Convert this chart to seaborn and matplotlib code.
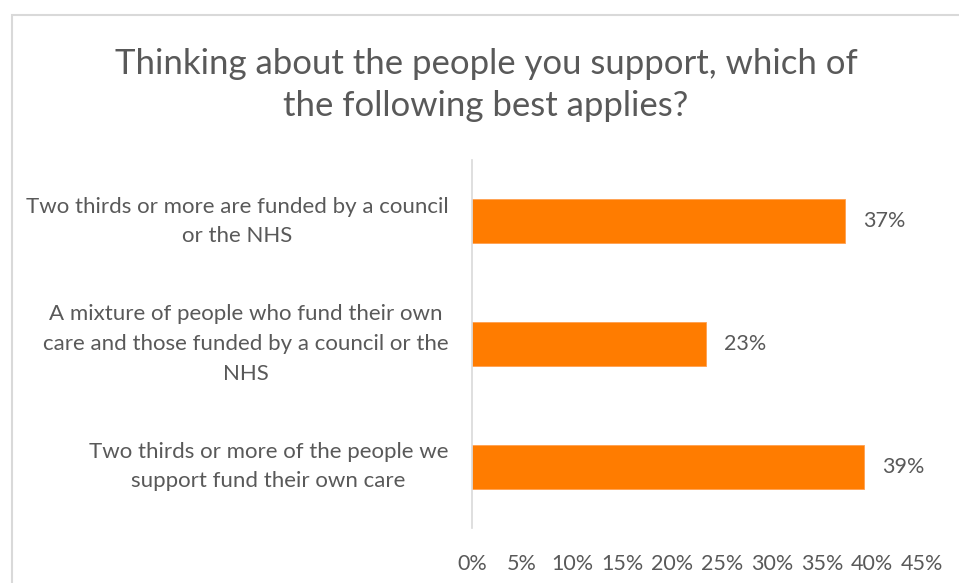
import matplotlib
matplotlib.use("Agg")
import matplotlib.pyplot as plt
import matplotlib.patches as mpatches
from matplotlib.ticker import FuncFormatter, MultipleLocator
import seaborn as sns
import pandas as pd

categories = [
    "Two thirds or more are funded by a council\nor the NHS",
    "A mixture of people who fund their own\ncare and those funded by a council or the\nNHS",
    "Two thirds or more of the people we\nsupport fund their own care",
]
shares = [37.3, 23.4, 39.2]
title = "Thinking about the people you support, which of\nthe following best applies?"

TEXT = "#595959"
ORANGE = "#FF7C00"
GRID = "#D9D9D9"

sns.set_theme(style="white")
plt.rcParams["font.family"] = ["Lato", "DejaVu Sans"]

df = pd.DataFrame({"category": categories, "share": shares})

fig = plt.figure(figsize=(9.59, 5.83), dpi=100)
ax = fig.add_axes([472 / 959, 1 - 528 / 583, 450 / 959, 368 / 583])

sns.barplot(data=df, x="share", y="category", color=ORANGE, width=0.36,
            saturation=1, ax=ax, edgecolor="#FFA050", linewidth=0.6)

ax.set_xlim(0, 45)
ax.xaxis.set_major_locator(MultipleLocator(5))
ax.xaxis.set_major_formatter(FuncFormatter(lambda v, _: f"{v:.0f}%"))
ax.set_xlabel("")
ax.set_ylabel("")

for s in ["top", "right", "bottom"]:
    ax.spines[s].set_visible(False)
ax.spines["left"].set_color(GRID)
ax.spines["left"].set_linewidth(1.2)

ax.tick_params(axis="x", length=0, pad=19, labelsize=15.5, labelcolor=TEXT)
ax.tick_params(axis="y", length=0, pad=17, labelsize=16, labelcolor=TEXT)
for lbl in ax.get_yticklabels():
    lbl.set_multialignment("center")
    lbl.set_verticalalignment("center")
    lbl.set_linespacing(1.6)

for patch, v in zip(ax.patches, shares):
    y = patch.get_y() + patch.get_height() / 2
    ax.annotate(f"{v:.0f}%", xy=(patch.get_width(), y), xytext=(13, 0),
                textcoords="offset points", va="center", ha="left",
                fontsize=15.5, color=TEXT)

fig.text(486 / 959, 1 - 85 / 583, title, ha="center", va="center",
         fontsize=25, color=TEXT, linespacing=1.42)

# chart frame
fig.patches.append(mpatches.Rectangle((12 / 959, -0.1), 1.2, 1.1 - 15 / 583,
                                      transform=fig.transFigure, fill=False,
                                      edgecolor=GRID, linewidth=1.5))

fig.savefig("out.png", dpi=100, facecolor="white")
